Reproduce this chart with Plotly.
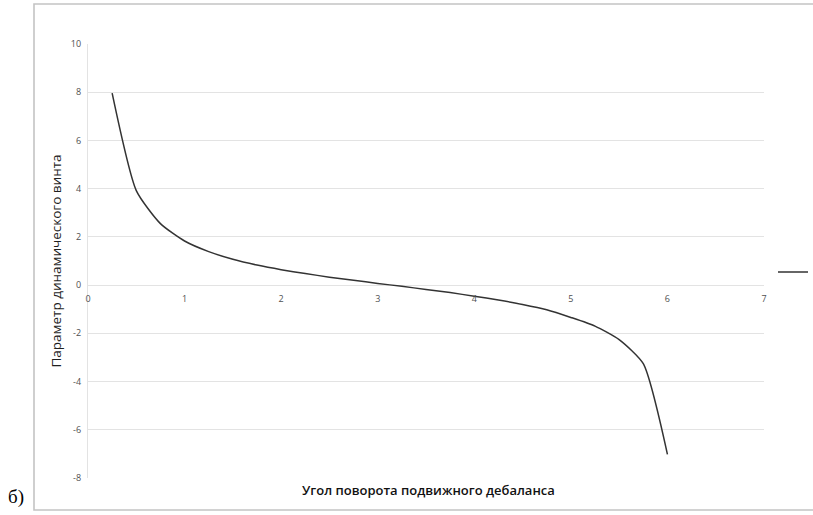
import plotly.graph_objects as go

# Rotation angle of the movable unbalance (rad) and the dynamic screw parameter
angle = [0.25, 0.50, 0.75, 1.00, 1.25, 1.50, 1.75, 2.00, 2.25, 2.50, 2.75, 3.00,
         3.25, 3.50, 3.75, 4.00, 4.25, 4.50, 4.75, 5.00, 5.25, 5.50, 5.75, 6.00]
screw_param = [7.96, 3.92, 2.55, 1.83, 1.39, 1.07, 0.83, 0.64, 0.48, 0.33, 0.20, 0.07,
               -0.05, -0.18, -0.31, -0.46, -0.62, -0.80, -1.02, -1.34, -1.70, -2.26, -3.26, -7.02]

x_range = [0, 7]
y_range = [-8, 10]
x_ticks = [0, 1, 2, 3, 4, 5, 6, 7]
y_ticks = [-8, -6, -4, -2, 0, 2, 4, 6, 8, 10]

x_title = "Угол поворота подвижного дебаланса"
y_title = "Параметр динамического винта"
panel_label = "б)"

W, H = 813, 515
ML, MR, MT, MB = 88, 49, 44, 37
plot_w = W - ML - MR
plot_h = H - MT - MB

grid_color = "#e3e3e3"
tick_color = "#505050"
font_family = "Open Sans, Liberation Sans, sans-serif"

fig = go.Figure()
fig.add_trace(go.Scatter(
    x=angle, y=screw_param,
    mode="lines",
    line=dict(color="#333333", width=1.5, shape="spline", smoothing=0.6),
    name="",
    showlegend=True,
    hoverinfo="x+y",
))

# x axis crosses at y = 0, labels sit just below that line
zero_pos = (0 - y_range[0]) / (y_range[1] - y_range[0])

fig.update_layout(
    width=W, height=H,
    margin=dict(l=ML, r=MR, t=MT, b=MB, pad=0, autoexpand=False),
    paper_bgcolor="white",
    plot_bgcolor="white",
    font=dict(family=font_family, color=tick_color, size=9),
    showlegend=True,
    legend=dict(
        x=(779 - ML - 6) / plot_w, y=(H - MB - 272) / plot_h,
        xanchor="left", yanchor="middle",
        bgcolor="rgba(0,0,0,0)", borderwidth=0,
        font=dict(size=9),
        itemwidth=30,
    ),
    xaxis=dict(
        range=x_range,
        tickvals=x_ticks,
        ticktext=[str(v) for v in x_ticks],
        showgrid=False,
        zeroline=False,
        showline=False,
        ticks="outside", ticklen=5, tickcolor="rgba(0,0,0,0)",
        anchor="free", position=zero_pos,
        tickfont=dict(size=9, color=tick_color),
    ),
    yaxis=dict(
        range=y_range,
        tickvals=y_ticks,
        ticktext=[str(v) for v in y_ticks],
        showgrid=True, gridcolor=grid_color, gridwidth=1.3,
        zeroline=True, zerolinecolor=grid_color, zerolinewidth=1.3,
        showline=True, linecolor=grid_color, linewidth=1.3,
        ticks="outside", ticklen=4, tickcolor="rgba(0,0,0,0)",
        tickfont=dict(size=9, color=tick_color),
        title=dict(text=y_title, font=dict(size=13.5, color="#1f1f1f"), standoff=6),
    ),
)

# x axis title centred under the plot area
fig.add_annotation(
    text=x_title, xref="paper", yref="paper",
    x=(428 - ML) / plot_w, y=(H - MB - 490) / plot_h,
    xanchor="center", yanchor="middle", showarrow=False,
    font=dict(size=13, color="#111111", family=font_family, weight=600),
)

# chart frame (runs off the right edge)
fig.add_shape(
    type="rect", xref="paper", yref="paper",
    x0=(34 - ML) / plot_w, x1=(830 - ML) / plot_w,
    y0=(H - MB - 510) / plot_h, y1=(H - MB - 4) / plot_h,
    line=dict(color="#c4c4c4", width=1.6),
    fillcolor="rgba(0,0,0,0)", layer="below",
)

# panel label
fig.add_annotation(
    text=panel_label, xref="paper", yref="paper",
    x=(6 - ML) / plot_w, y=(H - MB - 497) / plot_h,
    xanchor="left", yanchor="middle", showarrow=False,
    font=dict(size=19, color="#000000", family="Liberation Serif, DejaVu Serif, serif"),
)

fig.write_html("out.html")
